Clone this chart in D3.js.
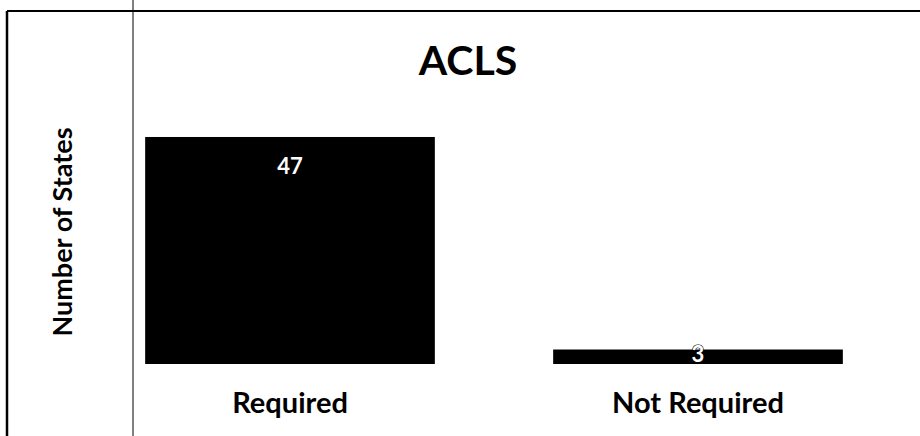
<!DOCTYPE html>
<html>
<head>
<meta charset="utf-8">
<script src="https://cdn.jsdelivr.net/npm/d3@7"></script>
<style>
  body { margin: 0; background: #fff; }
  svg text { font-family: Lato, "Open Sans", sans-serif; font-weight: 700; }
</style>
</head>
<body>
<svg id="chart" width="920" height="436"></svg>
<script>
// data
const categories = ["Required", "Not Required"];
const values = [47, 3];
const chartTitle = "ACLS";
const yLabel = "Number of States";

const svg = d3.select("#chart");
const width = 920, height = 436;

// frame lines (scanned table border)
svg.append("line").attr("x1", 7).attr("x2", width).attr("y1", 11).attr("y2", 11)
  .attr("stroke", "#000").attr("stroke-width", 2);
svg.append("line").attr("x1", 7).attr("x2", 7).attr("y1", 11).attr("y2", height)
  .attr("stroke", "#000").attr("stroke-width", 2.5);
svg.append("line").attr("x1", 133).attr("x2", 133).attr("y1", 0).attr("y2", height)
  .attr("stroke", "#000").attr("stroke-width", 1);

// scales
const xScale = d3.scaleBand()
  .domain(categories)
  .range([86, 902])
  .paddingInner(0.29)
  .paddingOuter(0.145);

const yScale = d3.scaleLinear()
  .domain([0, 50])
  .range([364, 364 - 50 * 4.83]);

// bars
svg.selectAll("rect.bar")
  .data(values)
  .join("rect")
  .attr("class", "bar")
  .attr("x", (d, i) => xScale(categories[i]))
  .attr("width", xScale.bandwidth())
  .attr("y", d => yScale(d))
  .attr("height", d => yScale(0) - yScale(d))
  .attr("fill", "#000");

// value labels
svg.selectAll("text.val")
  .data(values)
  .join("text")
  .attr("class", "val")
  .attr("x", (d, i) => xScale(categories[i]) + xScale.bandwidth() / 2)
  .attr("y", d => d > 10 ? yScale(d) + 37 : yScale(d) + 12)
  .attr("text-anchor", "middle")
  .attr("fill", "#fff")
  .attr("stroke", d => d > 10 ? "none" : "#000")
  .attr("stroke-width", 1.2)
  .style("paint-order", "stroke")
  .style("font-size", "22px")
  .text(d => d);

// x axis (labels only)
const xAxis = d3.axisBottom(xScale).tickSize(0).tickPadding(0);
svg.append("g")
  .attr("transform", "translate(0, 364)")
  .call(xAxis)
  .call(g => g.select(".domain").remove())
  .selectAll("text")
  .attr("dy", null)
  .attr("y", 49)
  .attr("fill", "#000")
  .style("font-size", "29px")
  .style("font-family", "Lato, 'Open Sans', sans-serif")
  .style("font-weight", "700");

// title
svg.append("text")
  .attr("x", 468)
  .attr("y", 75)
  .attr("text-anchor", "middle")
  .style("font-size", "41px")
  .text(chartTitle);

// y label
svg.append("text")
  .attr("transform", "translate(72, 232) rotate(-90)")
  .attr("text-anchor", "middle")
  .style("font-size", "27px")
  .text(yLabel);
</script>
</body>
</html>
